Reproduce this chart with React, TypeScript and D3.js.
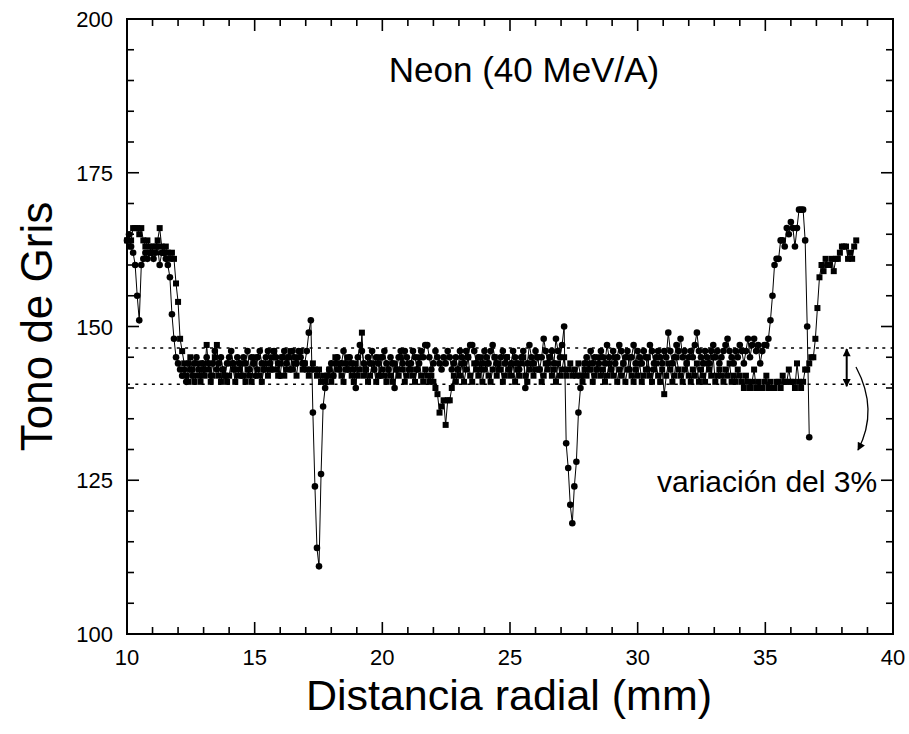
import React from 'react';
import * as d3 from 'd3';

// sample grid (mm)
const X_START = 10;
const X_STEP = 0.08;

// ---- circle series (gray tone) ----
const circlesLeft = [164,165,163,162,160,155,151,160,161,162,161,162,162,161,162,163,160,162,162,161,160,158,152,148,145,144,143];
const circlesFlat1 = [
  142,143,141,144,143,142,144,145,143,142,
  144,143,145,144,142,144,146,143,144,145,
  143,142,144,145,146,144,143,145,144,142,
  145,144,146,143,145,144,142,145,146,144,
  143,145,146,144,143,146,145,144,142,145,
  146,144,145,143,146,145,144,146,145,144];
const circlesDip1 = [144,146,149,151,136,124,114,111,126,137,140,142];
const circlesFlat2 = [
  143,144,142,144,145,143,144,146,144,143,
  145,144,143,140,145,147,146,144,143,145,
  144,146,143,145,144,142,145,146,144,143,
  145,144,140,143,145,146,144,146,145,143,
  144,146,145,143,144,146,145,147,147,145,
  143,144,146,145,144,143,145,144,146,145,
  143,144,145,143,146,145,144,146,145,147,
  147,146,144,145,143,144,146,145,144,146,
  147,145,144,143,145,146,144,145,143,144,
  146,145,144,143,145,146,140,144,147,145,
  144,146,145,143,145,148,146,144,145,146,
  144,148,146,145];
const circlesDip2 = [147,150,131,127,121,118,124,128,136,140];
const circlesFlat3 = [
  142,144,145,143,146,144,145,143,144,146,
  145,144,147,145,143,146,144,145,147,146,
  144,145,146,143,145,147,144,146,145,144,
  146,145,143,147,146,144,145,146,145,144,
  146,145,149,146,144,145,147,146,148,145,
  146,144,145,146,145,147,149,146,145,144,
  146,145,144,146,147,145,146,144,145,146,
  147,148,146,145,144,146,145,147,146,144,
  146,148,145,147,148,146,147,144,146,147,
  147];
const circlesRise = [148,151,155,160,161,161,164,164,163,166,165,167,166,163,166,169,169,169,164,150,132];

// ---- square series (gray tone) ----
const squaresLeft = [164,163,164,166,166,166,165,166,164,163,164,163,162,163,163,164,166,163,162,163,162,161,162,161,157,154,148,146,144];
const squaresFlat1 = [
  142,141,145,143,141,142,144,141,143,142,
  147,143,141,142,145,147,142,141,143,142,
  141,142,144,143,141,142,143,144,142,141,
  143,142,141,144,145,143,142,141,143,144,
  142,143,145,146,143,142,144,145,142,143,
  145,146,143,144,142,145,146,143,144,143,
  142,143,144,143,142,143,141,142,141,142,
  143,141,142,145,143,144,142,141,143,145,
  143,142,141,144,142,143,149,142,143,141,
  142,144,143,141,142,145,143,142,141,143,
  142,141,144,143,142,145,143,141,142,144,
  143,142,141,143,145,142,141,143,142,141,
  142,141];
const squaresDip = [140,139,136,137,138,134,138,138,140,142];
const squaresFlat2 = [
  141,143,142,144,141,143,145,142,141,144,
  143,142,145,141,143,144,142,141,143,145,
  142,144,143,141,142,145,143,142,144,141,
  143,142,144,145,142,141,143,144,142,143,
  145,143,141,142,144,143,145,142,143,141,
  144,142,143,145,142,143,144,142,143,142,
  144,142,141,143,142,144,143,141,142,143,
  145,142,143,141,142,144,143,142,145,141,
  143,142,144,141,143,145,142,141,143,142,
  144,141,142,143,145,142,141,143,144,142,
  141,143,139,142,144,143,141,142,145,143,
  142,141,143,144,142,141,143,142,144,141,
  143,142,141,144,143,142,145,141,142,143,
  142,141,143,142,144,141,142,141,143,142,
  141,140,142,141,140,141,143,140,141,140,
  140,141,142,140,141,140,140,141,141,140,
  142,141,141,143,141,141,140,144,141,140,
  141,143];
const squaresRise = [143,144,145,145,148,153,158,160,159,161,160,160,161,159,161,161,162,163,163,163,161,162,161,163,164];

const circleValues = [...circlesLeft, ...circlesFlat1, ...circlesDip1, ...circlesFlat2, ...circlesDip2, ...circlesFlat3, ...circlesRise];
const squareValues = [...squaresLeft, ...squaresFlat1, ...squaresDip, ...squaresFlat2, ...squaresRise];

const xMajorTicks = [10, 15, 20, 25, 30, 35, 40];
const yMajorTicks = [100, 125, 150, 175, 200];
const bandLimits = [146.5, 140.6];

const W = 909, H = 734;
const L = 127, R = 893, T = 19, B = 634;

export default function App() {
  const x = d3.scaleLinear().domain([10, 40]).range([L, R]);
  const y = d3.scaleLinear().domain([100, 200]).range([B, T]);

  const circlePts = circleValues.map((v, i) => [X_START + i * X_STEP, v] as [number, number]);
  const squarePts = squareValues.map((v, i) => [X_START + i * X_STEP, v] as [number, number]);
  const line = d3.line<[number, number]>().x(d => x(d[0])).y(d => y(d[1]));

  const xMinor = d3.range(10, 40.001, 1).filter(v => !xMajorTicks.includes(Math.round(v)));
  const yMinor = d3.range(100, 200.001, 5).filter(v => !yMajorTicks.includes(Math.round(v)));

  const font = 'Liberation Sans, Arial, sans-serif';
  const major = 12, minor = 7;

  return (
    <svg width={W} height={H} style={{ position: 'absolute', left: 0, top: 0, background: '#fff' }}
      fontFamily={font}>
      <defs>
        <marker id="ah" viewBox="0 0 10 10" refX="9" refY="5" markerWidth="11" markerHeight="8"
          markerUnits="userSpaceOnUse" orient="auto-start-reverse">
          <path d="M0,0 L10,5 L0,10 z" fill="#000" />
        </marker>
      </defs>
      <rect x={0} y={0} width={W} height={H} fill="#fff" />

      {/* dotted band lines */}
      {bandLimits.map(v => (
        <line key={v} x1={L} x2={R} y1={y(v)} y2={y(v)} stroke="#000" strokeWidth={1.5} strokeDasharray="3,5.3" />
      ))}

      {/* series lines */}
      <path d={line(squarePts) || ''} fill="none" stroke="#000" strokeWidth={1} />
      <path d={line(circlePts) || ''} fill="none" stroke="#000" strokeWidth={1} />

      {/* markers */}
      {squarePts.map((d, i) => (
        <rect key={'s' + i} x={x(d[0]) - 3} y={y(d[1]) - 3} width={6} height={6} fill="#000" />
      ))}
      {circlePts.map((d, i) => (
        <circle key={'c' + i} cx={x(d[0])} cy={y(d[1])} r={3.3} fill="#000" />
      ))}

      {/* frame */}
      <rect x={L} y={T} width={R - L} height={B - T} fill="none" stroke="#000" strokeWidth={2} />

      {/* x ticks bottom/top */}
      {xMajorTicks.map(v => (
        <g key={'xm' + v}>
          <line x1={x(v)} x2={x(v)} y1={B} y2={B - major} stroke="#000" strokeWidth={1.6} />
          <line x1={x(v)} x2={x(v)} y1={T} y2={T + major} stroke="#000" strokeWidth={1.6} />
          <text x={x(v)} y={665} textAnchor="middle" fontSize={22}>{v}</text>
        </g>
      ))}
      {xMinor.map(v => (
        <g key={'xn' + v}>
          <line x1={x(v)} x2={x(v)} y1={B} y2={B - minor} stroke="#000" strokeWidth={1.6} />
          <line x1={x(v)} x2={x(v)} y1={T} y2={T + minor} stroke="#000" strokeWidth={1.6} />
        </g>
      ))}
      {/* y ticks left/right */}
      {yMajorTicks.map(v => (
        <g key={'ym' + v}>
          <line x1={L} x2={L + major} y1={y(v)} y2={y(v)} stroke="#000" strokeWidth={1.6} />
          <line x1={R} x2={R - major} y1={y(v)} y2={y(v)} stroke="#000" strokeWidth={1.6} />
          <text x={113} y={y(v) + 8} textAnchor="end" fontSize={22}>{v}</text>
        </g>
      ))}
      {yMinor.map(v => (
        <g key={'yn' + v}>
          <line x1={L} x2={L + minor} y1={y(v)} y2={y(v)} stroke="#000" strokeWidth={1.6} />
          <line x1={R} x2={R - minor} y1={y(v)} y2={y(v)} stroke="#000" strokeWidth={1.6} />
        </g>
      ))}

      {/* annotations */}
      <text x={524} y={82} textAnchor="middle" fontSize={35}>Neon (40 MeV/A)</text>
      <text x={657} y={492} fontSize={30}>variación del 3%</text>
      <line x1={846.7} x2={846.7} y1={y(bandLimits[0]) + 1} y2={y(bandLimits[1]) + 2} stroke="#000" strokeWidth={2}
        markerStart="url(#ah)" markerEnd="url(#ah)" />
      <path d="M856,367 Q879,410 858,450" fill="none" stroke="#000" strokeWidth={1.3} markerEnd="url(#ah)" />

      {/* axis titles */}
      <text x={509} y={710} textAnchor="middle" fontSize={43}>Distancia radial (mm)</text>
      <text transform={`translate(52,${(T + B) / 2}) rotate(-90)`} textAnchor="middle" fontSize={44}>Tono de Gris</text>
    </svg>
  );
}
